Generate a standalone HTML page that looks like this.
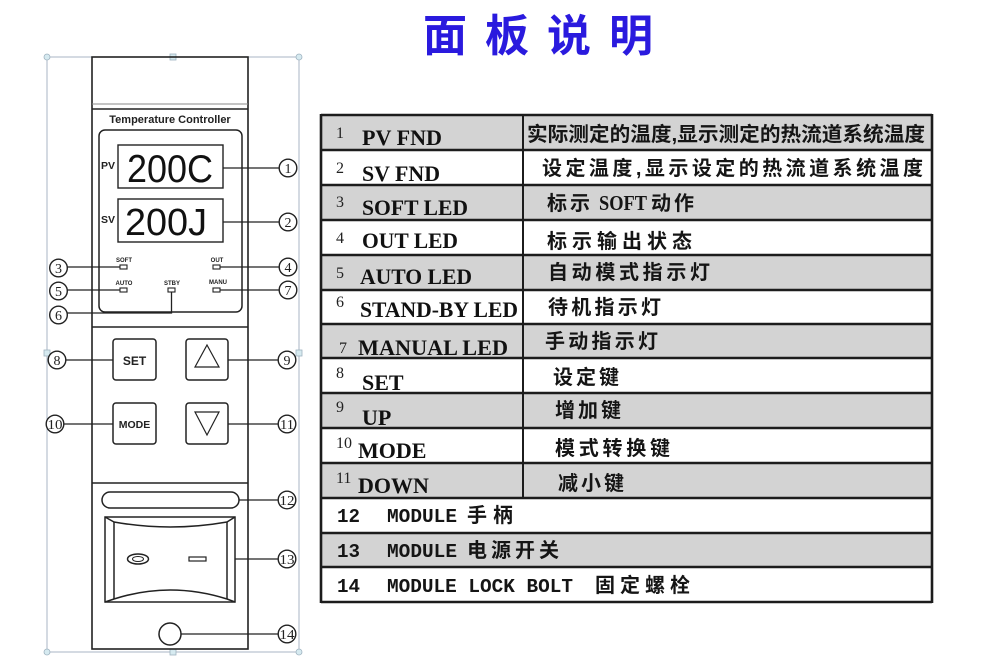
<!DOCTYPE html>
<html><head><meta charset="utf-8"><style>
html,body{margin:0;padding:0;background:#fff;}
svg{display:block;}
.cn{font-family:"Liberation Sans","Noto Sans CJK SC",sans-serif;font-weight:bold;}
.sf{font-family:"Liberation Serif",serif;}
.mo{font-family:"Liberation Mono",monospace;font-weight:bold;}
.ss{font-family:"Liberation Sans",sans-serif;}
</style></head><body>
<svg width="990" height="665" viewBox="0 0 990 665" xmlns="http://www.w3.org/2000/svg">
<rect width="990" height="665" fill="#fff"/>
<!-- Title -->
<text x="423" y="51" class="cn" font-size="44" fill="#2a1ade" letter-spacing="18">面板说明</text>

<!-- ===== Left panel ===== -->
<rect x="47" y="57" width="252" height="595" fill="none" stroke="#a9b6c4" stroke-width="1"/>
<g fill="#d6eaf0" stroke="#9fb3c0" stroke-width="0.8">
<rect x="170" y="54" width="6" height="6"/>
<rect x="170" y="649" width="6" height="6"/>
<rect x="44" y="350" width="6" height="6"/>
<rect x="296" y="350" width="6" height="6"/>
<circle cx="47" cy="57" r="3"/><circle cx="299" cy="57" r="3"/>
<circle cx="47" cy="652" r="3"/><circle cx="299" cy="652" r="3"/>
</g>
<g fill="none" stroke="#222" stroke-width="1.6">
<rect x="92" y="57" width="156" height="592"/>
<line x1="92" y1="109" x2="248" y2="109"/>
<line x1="92" y1="327" x2="248" y2="327"/>
<line x1="92" y1="483" x2="248" y2="483"/>
</g>
<line x1="92" y1="104" x2="248" y2="104" stroke="#888" stroke-width="1"/>
<text x="170" y="123" class="ss" font-size="11" font-weight="bold" text-anchor="middle" fill="#222">Temperature Controller</text>
<rect x="99" y="130" width="143" height="182" rx="6" fill="none" stroke="#222" stroke-width="1.5"/>
<rect x="118" y="145" width="105" height="43" fill="none" stroke="#222" stroke-width="1.4"/>
<rect x="118" y="199" width="105" height="43" fill="none" stroke="#222" stroke-width="1.4"/>
<text x="127" y="182" class="ss" font-size="39" fill="#111" textLength="86" lengthAdjust="spacingAndGlyphs">200C</text>
<text x="125" y="235" class="ss" font-size="38" fill="#111" textLength="82" lengthAdjust="spacingAndGlyphs">200J</text>
<text x="101" y="169" class="ss" font-size="10.5" font-weight="bold" fill="#222">PV</text>
<text x="101" y="223" class="ss" font-size="10.5" font-weight="bold" fill="#222">SV</text>
<g class="ss" font-size="6" font-weight="bold" fill="#222" text-anchor="middle">
<text x="124" y="262">SOFT</text>
<text x="217" y="262">OUT</text>
<text x="124" y="285">AUTO</text>
<text x="172" y="285">STBY</text>
<text x="218" y="284">MANU</text>
</g>
<g fill="#fff" stroke="#222" stroke-width="1.1">
<rect x="120" y="265" width="7" height="4"/>
<rect x="213" y="265" width="7" height="4"/>
<rect x="120" y="288" width="7" height="4"/>
<rect x="168" y="288" width="7" height="4"/>
<rect x="213" y="288" width="7" height="4"/>
</g>
<g fill="none" stroke="#222" stroke-width="1.5">
<rect x="113" y="339" width="43" height="41" rx="3"/>
<rect x="186" y="339" width="42" height="41" rx="3"/>
<rect x="113" y="403" width="43" height="41" rx="3"/>
<rect x="186" y="403" width="42" height="41" rx="3"/>
<polygon points="207,345 219,367 195,367" stroke-width="1.2"/>
<polygon points="195,412 219,412 207,435" stroke-width="1.2"/>
</g>
<text x="134.5" y="365" class="ss" font-size="12" font-weight="bold" text-anchor="middle" fill="#222">SET</text>
<text x="134.5" y="428" class="ss" font-size="10.5" font-weight="bold" text-anchor="middle" fill="#222">MODE</text>
<g fill="none" stroke="#222" stroke-width="1.5">
<rect x="102" y="492" width="137" height="16" rx="8"/>
<rect x="105" y="517" width="130" height="85"/>
<path d="M114,522 Q170,532 227,522"/>
<path d="M114,599 Q170,581 227,599"/>
<line x1="114" y1="522" x2="114" y2="599"/>
<line x1="227" y1="522" x2="227" y2="599"/>
<line x1="105" y1="517" x2="114" y2="522"/>
<line x1="235" y1="517" x2="227" y2="522"/>
<line x1="105" y1="602" x2="114" y2="599"/>
<line x1="235" y1="602" x2="227" y2="599"/>
<ellipse cx="138" cy="559" rx="10.5" ry="5"/>
<ellipse cx="138" cy="559" rx="5.5" ry="2.5" stroke-width="1"/>
<rect x="189" y="557" width="17" height="4" stroke-width="1.2"/>
<circle cx="170" cy="634" r="11"/>
</g>
<g stroke="#222" stroke-width="1.3" fill="none">
<line x1="223" y1="168" x2="279" y2="168"/>
<line x1="223" y1="222" x2="279" y2="222"/>
<line x1="67" y1="267" x2="120" y2="267"/>
<line x1="220" y1="267" x2="279" y2="267"/>
<line x1="67" y1="290" x2="120" y2="290"/>
<line x1="220" y1="290" x2="279" y2="290"/>
<polyline points="171.5,292 171.5,313 67,313"/>
<line x1="66" y1="360" x2="113" y2="360"/>
<line x1="228" y1="360" x2="279" y2="360"/>
<line x1="64" y1="424" x2="113" y2="424"/>
<line x1="228" y1="424" x2="279" y2="424"/>
<line x1="239" y1="500" x2="279" y2="500"/>
<line x1="235" y1="559" x2="279" y2="559"/>
<line x1="181" y1="634" x2="279" y2="634"/>
</g>
<g fill="#fff" stroke="#222" stroke-width="1.4">
<circle cx="288" cy="168" r="8.8"/>
<circle cx="288" cy="222" r="8.8"/>
<circle cx="58.5" cy="268" r="8.8"/>
<circle cx="288" cy="267" r="8.8"/>
<circle cx="58.5" cy="291" r="8.8"/>
<circle cx="58.5" cy="315" r="8.8"/>
<circle cx="288" cy="290" r="8.8"/>
<circle cx="57" cy="360" r="8.8"/>
<circle cx="287" cy="360" r="8.8"/>
<circle cx="55" cy="424" r="8.8"/>
<circle cx="287" cy="424" r="8.8"/>
<circle cx="287" cy="500" r="8.8"/>
<circle cx="287" cy="559" r="8.8"/>
<circle cx="287" cy="634" r="8.8"/>
</g>
<g class="sf" font-size="14" fill="#222" text-anchor="middle">
<text x="288" y="173">1</text>
<text x="288" y="227">2</text>
<text x="58.5" y="273">3</text>
<text x="288" y="272">4</text>
<text x="58.5" y="296">5</text>
<text x="58.5" y="320">6</text>
<text x="288" y="295">7</text>
<text x="57" y="365">8</text>
<text x="287" y="365">9</text>
<text x="55" y="429" textLength="15" lengthAdjust="spacingAndGlyphs">10</text>
<text x="287" y="429" textLength="14" lengthAdjust="spacingAndGlyphs">11</text>
<text x="287" y="505" textLength="15" lengthAdjust="spacingAndGlyphs">12</text>
<text x="287" y="564" textLength="15" lengthAdjust="spacingAndGlyphs">13</text>
<text x="287" y="639" textLength="15" lengthAdjust="spacingAndGlyphs">14</text>
</g>

<!-- ===== Table ===== -->
<g fill="#d3d3d3">
<rect x="321" y="115" width="611" height="35"/>
<rect x="321" y="185" width="611" height="35"/>
<rect x="321" y="255" width="611" height="35"/>
<rect x="321" y="324" width="611" height="34"/>
<rect x="321" y="393" width="611" height="35"/>
<rect x="321" y="463" width="611" height="35"/>
<rect x="321" y="533" width="611" height="34"/>
</g>
<g stroke="#1c1c1c" stroke-width="2.6">
<line x1="321" y1="115" x2="932" y2="115"/>
<line x1="321" y1="150" x2="932" y2="150"/>
<line x1="321" y1="185" x2="932" y2="185"/>
<line x1="321" y1="220" x2="932" y2="220"/>
<line x1="321" y1="255" x2="932" y2="255"/>
<line x1="321" y1="290" x2="932" y2="290"/>
<line x1="321" y1="324" x2="932" y2="324"/>
<line x1="321" y1="358" x2="932" y2="358"/>
<line x1="321" y1="393" x2="932" y2="393"/>
<line x1="321" y1="428" x2="932" y2="428"/>
<line x1="321" y1="463" x2="932" y2="463"/>
<line x1="321" y1="498" x2="932" y2="498"/>
<line x1="321" y1="533" x2="932" y2="533"/>
<line x1="321" y1="567" x2="932" y2="567"/>
<line x1="321" y1="602" x2="932" y2="602"/>
<line x1="321" y1="114" x2="321" y2="603"/>
<line x1="932" y1="114" x2="932" y2="603"/>
<line x1="523" y1="115" x2="523" y2="498" stroke-width="2"/>
</g>
<g class="sf" font-size="16" fill="#222">
<text x="336" y="138">1</text>
<text x="336" y="173">2</text>
<text x="336" y="207">3</text>
<text x="336" y="243">4</text>
<text x="336" y="278">5</text>
<text x="336" y="307">6</text>
<text x="339" y="353">7</text>
<text x="336" y="378">8</text>
<text x="336" y="412">9</text>
<text x="336" y="448">10</text>
<text x="336" y="483">11</text>
</g>
<g class="sf" font-size="22" font-weight="bold" fill="#111">
<text x="362" y="145" textLength="80" lengthAdjust="spacingAndGlyphs">PV FND</text>
<text x="362" y="181" textLength="78" lengthAdjust="spacingAndGlyphs">SV FND</text>
<text x="362" y="215" textLength="106" lengthAdjust="spacingAndGlyphs">SOFT LED</text>
<text x="362" y="248" textLength="96" lengthAdjust="spacingAndGlyphs">OUT LED</text>
<text x="360" y="284" textLength="112" lengthAdjust="spacingAndGlyphs">AUTO LED</text>
<text x="360" y="317" textLength="158" lengthAdjust="spacingAndGlyphs">STAND-BY LED</text>
<text x="358" y="355" textLength="150" lengthAdjust="spacingAndGlyphs">MANUAL LED</text>
<text x="362" y="390">SET</text>
<text x="362" y="425">UP</text>
<text x="358" y="458">MODE</text>
<text x="358" y="493">DOWN</text>
</g>
<g class="cn" font-size="20" fill="#151515">
<text x="527" y="141" textLength="398" lengthAdjust="spacingAndGlyphs">实际测定的温度,显示测定的热流道系统温度</text>
<text x="542" y="175" textLength="381" lengthAdjust="spacing">设定温度,显示设定的热流道系统温度</text>
<text x="547" y="210" letter-spacing="3">标示</text>
<text x="599" y="210" class="sf" font-size="21" textLength="48" lengthAdjust="spacingAndGlyphs">SOFT</text>
<text x="651" y="210" letter-spacing="3">动作</text>
<text x="547" y="248" textLength="145" lengthAdjust="spacing">标示输出状态</text>
<text x="548" y="279" textLength="162" lengthAdjust="spacing">自动模式指示灯</text>
<text x="548" y="314" textLength="113" lengthAdjust="spacing">待机指示灯</text>
<text x="545" y="348" textLength="113" lengthAdjust="spacing">手动指示灯</text>
<text x="553" y="384" textLength="66" lengthAdjust="spacing">设定键</text>
<text x="555" y="417" textLength="66" lengthAdjust="spacing">增加键</text>
<text x="555" y="455" textLength="115" lengthAdjust="spacing">模式转换键</text>
<text x="558" y="490" textLength="66" lengthAdjust="spacing">减小键</text>
</g>
<g class="mo" font-size="19" fill="#151515">
<text x="337" y="522" textLength="23" lengthAdjust="spacingAndGlyphs">12</text>
<text x="387" y="522" textLength="70" lengthAdjust="spacingAndGlyphs">MODULE</text>
<text x="337" y="557" textLength="23" lengthAdjust="spacingAndGlyphs">13</text>
<text x="387" y="557" textLength="70" lengthAdjust="spacingAndGlyphs">MODULE</text>
<text x="337" y="592" textLength="23" lengthAdjust="spacingAndGlyphs">14</text>
<text x="387" y="592" textLength="186" lengthAdjust="spacingAndGlyphs">MODULE LOCK BOLT</text>
</g>
<g class="cn" font-size="20" fill="#151515">
<text x="467" y="522" textLength="46" lengthAdjust="spacing">手柄</text>
<text x="467" y="557" textLength="92" lengthAdjust="spacing">电源开关</text>
<text x="595" y="592" textLength="95" lengthAdjust="spacing">固定螺栓</text>
</g>
</svg>
</body></html>
